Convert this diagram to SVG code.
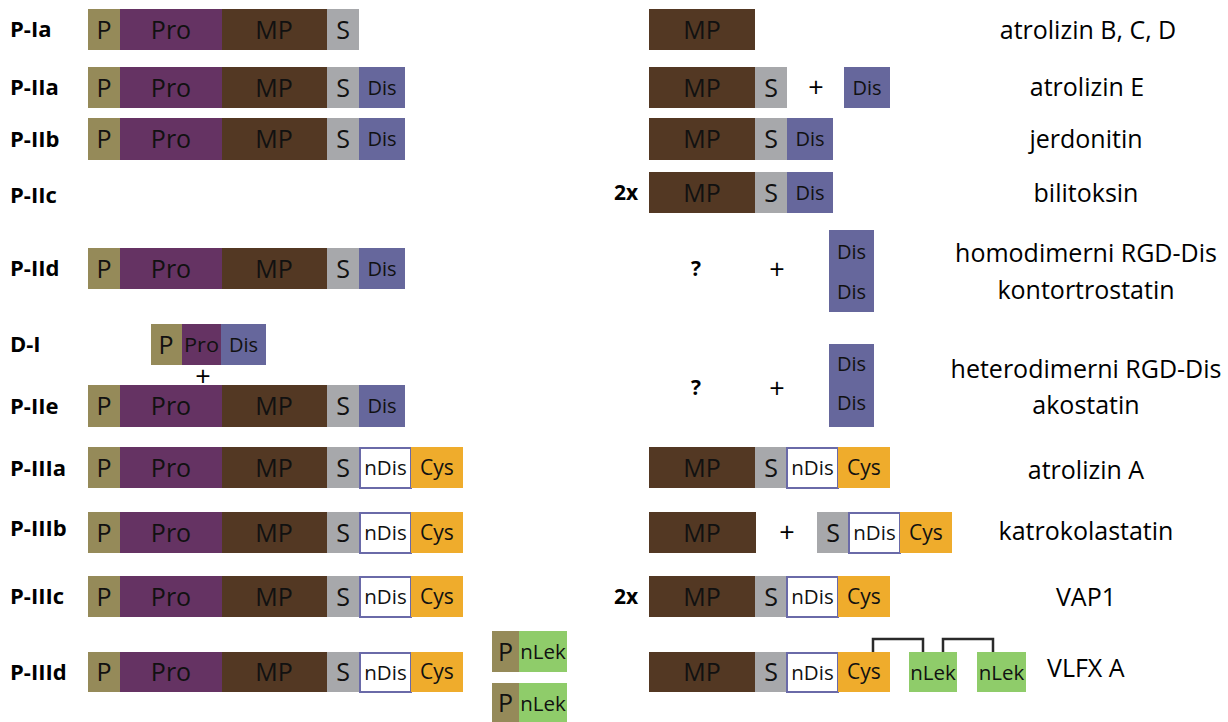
<svg xmlns="http://www.w3.org/2000/svg" width="1228" height="722" viewBox="0 0 1228 722">
<style>
.lbl{font-family:"Open Sans","Liberation Sans",sans-serif;font-weight:700;font-size:22px;fill:#000}
.sym{font-family:"Open Sans","Liberation Sans",sans-serif;font-weight:700;font-size:21px;fill:#000;text-anchor:middle}
.plus{font-family:"Open Sans","Liberation Sans",sans-serif;font-size:27px;fill:#000;text-anchor:middle}
.name{font-family:"Open Sans","Liberation Sans",sans-serif;font-size:25px;fill:#000;text-anchor:middle}
.bt{font-family:"Open Sans","Liberation Sans",sans-serif;font-size:25px;fill:#111;text-anchor:middle}
.bs{font-family:"Open Sans","Liberation Sans",sans-serif;font-size:20px;fill:#111;text-anchor:middle}
.bn{font-family:"Open Sans","Liberation Sans",sans-serif;font-size:20.5px;fill:#111;text-anchor:middle}
.bc{font-family:"Open Sans","Liberation Sans",sans-serif;font-size:21px;fill:#111;text-anchor:middle}
.P{fill:#958a59}
.Pro{fill:#653363}
.MP{fill:#533823}
.S{fill:#a7a8ab}
.Dis{fill:#66679c}
.nDis{fill:#fff;stroke:#6a6aa8;stroke-width:2}
.Cys{fill:#efac2c}
.nLek{fill:#8fcc6a}
.br{fill:none;stroke:#2a2a2a;stroke-width:2.5}
</style>

<g id="labels">
<text class="lbl" x="10" y="37">P-Ia</text>
<text class="lbl" x="10" y="95">P-IIa</text>
<text class="lbl" x="10" y="147">P-IIb</text>
<text class="lbl" x="10" y="203">P-IIc</text>
<text class="lbl" x="10" y="276">P-IId</text>
<text class="lbl" x="10" y="352">D-I</text>
<text class="lbl" x="10" y="414">P-IIe</text>
<text class="lbl" x="10" y="476">P-IIIa</text>
<text class="lbl" x="10" y="536">P-IIIb</text>
<text class="lbl" x="10" y="604">P-IIIc</text>
<text class="lbl" x="10" y="680">P-IIId</text>
</g>

<g id="row-P-Ia-left">
<rect class="P" x="88" y="9" width="32" height="41"/><text class="bt" x="104" y="38.5">P</text>
<rect class="Pro" x="120" y="9" width="102" height="41"/><text class="bt" x="171" y="38.5">Pro</text>
<rect class="MP" x="222" y="9" width="105" height="41"/><text class="bt" x="274" y="38.5">MP</text>
<rect class="S" x="327" y="9" width="32" height="41"/><text class="bt" x="343" y="38.5">S</text>
</g>
<g id="row-P-IIa-left">
<rect class="P" x="88" y="67" width="32" height="41"/><text class="bt" x="104" y="96.5">P</text>
<rect class="Pro" x="120" y="67" width="102" height="41"/><text class="bt" x="171" y="96.5">Pro</text>
<rect class="MP" x="222" y="67" width="105" height="41"/><text class="bt" x="274" y="96.5">MP</text>
<rect class="S" x="327" y="67" width="32" height="41"/><text class="bt" x="343" y="96.5">S</text>
<rect class="Dis" x="359" y="67" width="46" height="41"/><text class="bs" x="382" y="94.5">Dis</text>
</g>
<g id="row-P-IIb-left">
<rect class="P" x="88" y="118" width="32" height="42"/><text class="bt" x="104" y="148">P</text>
<rect class="Pro" x="120" y="118" width="102" height="42"/><text class="bt" x="171" y="148">Pro</text>
<rect class="MP" x="222" y="118" width="105" height="42"/><text class="bt" x="274" y="148">MP</text>
<rect class="S" x="327" y="118" width="32" height="42"/><text class="bt" x="343" y="148">S</text>
<rect class="Dis" x="359" y="118" width="46" height="42"/><text class="bs" x="382" y="146">Dis</text>
</g>
<g id="row-P-IId-left">
<rect class="P" x="88" y="248" width="32" height="41"/><text class="bt" x="104" y="277.5">P</text>
<rect class="Pro" x="120" y="248" width="102" height="41"/><text class="bt" x="171" y="277.5">Pro</text>
<rect class="MP" x="222" y="248" width="105" height="41"/><text class="bt" x="274" y="277.5">MP</text>
<rect class="S" x="327" y="248" width="32" height="41"/><text class="bt" x="343" y="277.5">S</text>
<rect class="Dis" x="359" y="248" width="46" height="41"/><text class="bs" x="382" y="275.5">Dis</text>
</g>
<g id="row-D-I">
<rect class="P" x="151" y="324" width="31" height="41"/><text class="bt" x="166" y="353.5">P</text>
<rect class="Pro" x="182" y="324" width="39" height="41"/><text class="bs" x="201.5" y="351.5" textLength="35" lengthAdjust="spacingAndGlyphs">Pro</text>
<rect class="Dis" x="221" y="324" width="45" height="41"/><text class="bs" x="243.5" y="351.5">Dis</text>
<text class="plus" x="203" y="386">+</text>
</g>
<g id="row-P-IIe-left">
<rect class="P" x="88" y="385" width="32" height="42"/><text class="bt" x="104" y="415">P</text>
<rect class="Pro" x="120" y="385" width="102" height="42"/><text class="bt" x="171" y="415">Pro</text>
<rect class="MP" x="222" y="385" width="105" height="42"/><text class="bt" x="274" y="415">MP</text>
<rect class="S" x="327" y="385" width="32" height="42"/><text class="bt" x="343" y="415">S</text>
<rect class="Dis" x="359" y="385" width="46" height="42"/><text class="bs" x="382" y="413">Dis</text>
</g>
<g id="row-P-IIIa-left">
<rect class="P" x="88" y="447" width="32" height="41"/><text class="bt" x="104" y="476.5">P</text>
<rect class="Pro" x="120" y="447" width="102" height="41"/><text class="bt" x="171" y="476.5">Pro</text>
<rect class="MP" x="222" y="447" width="105" height="41"/><text class="bt" x="274" y="476.5">MP</text>
<rect class="S" x="327" y="447" width="32" height="41"/><text class="bt" x="343" y="476.5">S</text>
<rect class="nDis" x="360" y="448" width="51" height="40"/><text class="bn" x="385.5" y="475">nDis</text>
<rect class="Cys" x="411" y="447" width="52" height="41"/><text class="bc" x="437" y="474.5">Cys</text>
</g>
<g id="row-P-IIIb-left">
<rect class="P" x="88" y="512" width="32" height="41"/><text class="bt" x="104" y="541.5">P</text>
<rect class="Pro" x="120" y="512" width="102" height="41"/><text class="bt" x="171" y="541.5">Pro</text>
<rect class="MP" x="222" y="512" width="105" height="41"/><text class="bt" x="274" y="541.5">MP</text>
<rect class="S" x="327" y="512" width="32" height="41"/><text class="bt" x="343" y="541.5">S</text>
<rect class="nDis" x="360" y="513" width="51" height="40"/><text class="bn" x="385.5" y="540">nDis</text>
<rect class="Cys" x="411" y="512" width="52" height="41"/><text class="bc" x="437" y="539.5">Cys</text>
</g>
<g id="row-P-IIIc-left">
<rect class="P" x="88" y="576" width="32" height="41"/><text class="bt" x="104" y="605.5">P</text>
<rect class="Pro" x="120" y="576" width="102" height="41"/><text class="bt" x="171" y="605.5">Pro</text>
<rect class="MP" x="222" y="576" width="105" height="41"/><text class="bt" x="274" y="605.5">MP</text>
<rect class="S" x="327" y="576" width="32" height="41"/><text class="bt" x="343" y="605.5">S</text>
<rect class="nDis" x="360" y="577" width="51" height="40"/><text class="bn" x="385.5" y="604">nDis</text>
<rect class="Cys" x="411" y="576" width="52" height="41"/><text class="bc" x="437" y="603.5">Cys</text>
</g>
<g id="row-P-IIId-left">
<rect class="P" x="88" y="652" width="32" height="40"/><text class="bt" x="104" y="681">P</text>
<rect class="Pro" x="120" y="652" width="102" height="40"/><text class="bt" x="171" y="681">Pro</text>
<rect class="MP" x="222" y="652" width="105" height="40"/><text class="bt" x="274" y="681">MP</text>
<rect class="S" x="327" y="652" width="32" height="40"/><text class="bt" x="343" y="681">S</text>
<rect class="nDis" x="360" y="653" width="51" height="39"/><text class="bn" x="385.5" y="679.5">nDis</text>
<rect class="Cys" x="411" y="652" width="52" height="40"/><text class="bc" x="437" y="679">Cys</text>
</g>
<g id="nLek-left-1">
<rect class="P" x="492" y="631" width="27" height="41"/><text class="bt" x="505.5" y="660.5">P</text>
<rect class="nLek" x="519" y="631" width="48" height="41"/><text class="bn" x="543" y="658.5">nLek</text>
</g>
<g id="nLek-left-2">
<rect class="P" x="492" y="683" width="27" height="41"/><text class="bt" x="505.5" y="712">P</text>
<rect class="nLek" x="519" y="683" width="48" height="41"/><text class="bn" x="543" y="710.5">nLek</text>
</g>

<g id="row-P-Ia-right">
<rect class="MP" x="649" y="9" width="106" height="41"/><text class="bt" x="702" y="38.5">MP</text>
</g>
<g id="row-P-IIa-right">
<rect class="MP" x="649" y="67" width="106" height="41"/><text class="bt" x="702" y="96.5">MP</text>
<rect class="S" x="755" y="67" width="32" height="41"/><text class="bt" x="771" y="96.5">S</text>
<text class="plus" x="816" y="97">+</text>
<rect class="Dis" x="844" y="67" width="46" height="41"/><text class="bs" x="867" y="94.5">Dis</text>
</g>
<g id="row-P-IIb-right">
<rect class="MP" x="649" y="118" width="106" height="42"/><text class="bt" x="702" y="148">MP</text>
<rect class="S" x="755" y="118" width="32" height="42"/><text class="bt" x="771" y="148">S</text>
<rect class="Dis" x="787" y="118" width="46" height="42"/><text class="bs" x="810" y="146">Dis</text>
</g>
<g id="row-P-IIc-right">
<text class="sym" x="626" y="200">2x</text>
<rect class="MP" x="649" y="172" width="106" height="41"/><text class="bt" x="702" y="201.5">MP</text>
<rect class="S" x="755" y="172" width="32" height="41"/><text class="bt" x="771" y="201.5">S</text>
<rect class="Dis" x="787" y="172" width="46" height="41"/><text class="bs" x="810" y="199.5">Dis</text>
</g>
<g id="row-P-IId-right">
<text class="sym" x="696" y="276">?</text>
<text class="plus" x="777" y="279">+</text>
<rect class="Dis" x="829" y="230" width="45" height="82"/>
<text class="bs" x="851.5" y="259">Dis</text><text class="bs" x="851.5" y="299">Dis</text>
</g>
<g id="row-P-IIe-right">
<text class="sym" x="696" y="395">?</text>
<text class="plus" x="777" y="398">+</text>
<rect class="Dis" x="829" y="344" width="45" height="83"/>
<text class="bs" x="851.5" y="371">Dis</text><text class="bs" x="851.5" y="410">Dis</text>
</g>
<g id="row-P-IIIa-right">
<rect class="MP" x="649" y="447" width="106" height="41"/><text class="bt" x="702" y="476.5">MP</text>
<rect class="S" x="755" y="447" width="32" height="41"/><text class="bt" x="771" y="476.5">S</text>
<rect class="nDis" x="787" y="448" width="51" height="40"/><text class="bn" x="812.5" y="475">nDis</text>
<rect class="Cys" x="838" y="447" width="52" height="41"/><text class="bc" x="864" y="474.5">Cys</text>
</g>
<g id="row-P-IIIb-right">
<rect class="MP" x="649" y="512" width="107" height="41"/><text class="bt" x="702" y="541.5">MP</text>
<text class="plus" x="787" y="542">+</text>
<rect class="S" x="817" y="512" width="32" height="41"/><text class="bt" x="833" y="541.5">S</text>
<rect class="nDis" x="849" y="513" width="51" height="40"/><text class="bn" x="874.5" y="540">nDis</text>
<rect class="Cys" x="900" y="512" width="52" height="41"/><text class="bc" x="926" y="539.5">Cys</text>
</g>
<g id="row-P-IIIc-right">
<text class="sym" x="626" y="604">2x</text>
<rect class="MP" x="649" y="576" width="106" height="41"/><text class="bt" x="702" y="605.5">MP</text>
<rect class="S" x="755" y="576" width="32" height="41"/><text class="bt" x="771" y="605.5">S</text>
<rect class="nDis" x="787" y="577" width="51" height="40"/><text class="bn" x="812.5" y="604">nDis</text>
<rect class="Cys" x="838" y="576" width="52" height="41"/><text class="bc" x="864" y="603.5">Cys</text>
</g>
<g id="row-P-IIId-right">
<rect class="MP" x="649" y="652" width="106" height="40"/><text class="bt" x="702" y="681">MP</text>
<rect class="S" x="755" y="652" width="32" height="40"/><text class="bt" x="771" y="681">S</text>
<rect class="nDis" x="787" y="653" width="51" height="39"/><text class="bn" x="812.5" y="679.5">nDis</text>
<rect class="Cys" x="838" y="652" width="52" height="40"/><text class="bc" x="864" y="679">Cys</text>
<rect class="nLek" x="909" y="652" width="48" height="40"/><text class="bn" x="933" y="679.5">nLek</text>
<rect class="nLek" x="977" y="652" width="49" height="40"/><text class="bn" x="1001.5" y="679.5">nLek</text>
</g>

<g id="connectors">
<polyline class="br" points="873,652 873,639 923,639 923,652"/>
<polyline class="br" points="943,652 943,639 993,639 993,652"/>
</g>

<g id="names">
<text class="name" x="1088" y="39">atrolizin B, C, D</text>
<text class="name" x="1087" y="96">atrolizin E</text>
<text class="name" x="1086" y="148">jerdonitin</text>
<text class="name" x="1086" y="202">bilitoksin</text>
<text class="name" x="1086" y="262">homodimerni RGD-Dis</text>
<text class="name" x="1086" y="299">kontortrostatin</text>
<text class="name" x="1086" y="378">heterodimerni RGD-Dis</text>
<text class="name" x="1086" y="414">akostatin</text>
<text class="name" x="1086" y="479">atrolizin A</text>
<text class="name" x="1086" y="540">katrokolastatin</text>
<text class="name" x="1086" y="606">VAP1</text>
<text class="name" x="1047" y="677" style="text-anchor:start">VLFX A</text>
</g>
</svg>
